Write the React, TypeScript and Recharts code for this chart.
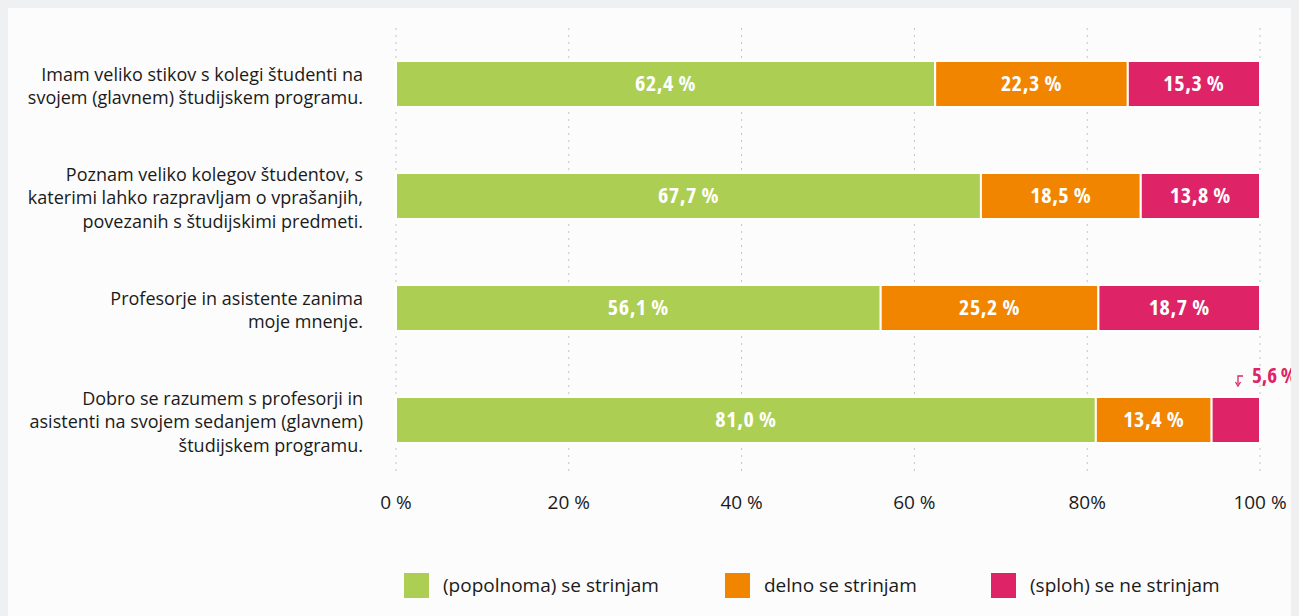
import { BarChart, Bar, XAxis, YAxis, CartesianGrid, LabelList } from 'recharts'

const categories = [
   ['Imam veliko stikov s kolegi študenti na', 'svojem (glavnem) študijskem programu.'],
   ['Poznam veliko kolegov študentov, s', 'katerimi lahko razpravljam o vprašanjih,', 'povezanih s študijskimi predmeti.'],
   ['Profesorje in asistente zanima', 'moje mnenje.'],
   ['Dobro se razumem s profesorji in', 'asistenti na svojem sedanjem (glavnem)', 'študijskem programu.'],
]
const agree = [62.4, 67.7, 56.1, 81.0]
const partly = [22.3, 18.5, 25.2, 13.4]
const disagree = [15.3, 13.8, 18.7, 5.6]
const tickValues = [0, 20, 40, 60, 80, 100]
const tickLabels = ['0 %', '20 %', '40 %', '60 %', '80%', '100 %']
const seriesNames = ['(popolnoma) se strinjam', 'delno se strinjam', '(sploh) se ne strinjam']

const COLORS = ['#acce52', '#f18500', '#de2367']
const FONT = '"Open Sans", sans-serif'
const LEGEND_LEFT = [396, 717, 983]

const data = categories.map((lines, i) => ({
   name: String(i),
   agree: agree[i],
   partly: partly[i],
   disagree: disagree[i],
}))

const fmt = (v: number) => v.toFixed(1).replace('.', ',') + ' %'

function CategoryTick(props: any) {
   const { y, payload } = props
   const lines = categories[Number(payload.value)]
   const lh = 23.5
   const start = y - ((lines.length - 1) * lh) / 2 + 3.5
   return (
      <text x={355} y={start} textAnchor="end" fill="#1a1a1a" fontSize={18} fontFamily={FONT}>
         {lines.map((l, i) => (
            <tspan key={i} x={355} y={start + i * lh} dominantBaseline="middle">
               {l}
            </tspan>
         ))}
      </text>
   )
}

function InsideLabel(props: any) {
   const { x, y, width, height, value } = props
   if (value < 8) {
      // small slice: label sits above the bar with a little hook arrow
      const ax = x + width - 22
      const ty = y - 21
      return (
         <g>
            <path d={`M${ax + 5} ${ty} H${ax} V${ty + 8}`} stroke={COLORS[2]} strokeWidth={1.3} fill="none" />
            <path d={`M${ax - 2.5} ${ty + 6} L${ax} ${ty + 10} L${ax + 2.5} ${ty + 6}`} stroke={COLORS[2]} strokeWidth={1.3} fill="none" />
            <text x={ax + 14} y={ty + 1} fill={COLORS[2]} fontSize={21} fontWeight="bold" fontFamily={FONT} style={{ fontStretch: '75%' }} dominantBaseline="middle">
               {fmt(value)}
            </text>
         </g>
      )
   }
   return (
      <text
         x={x + width / 2}
         y={y + height / 2 + 1}
         textAnchor="middle"
         dominantBaseline="middle"
         fill="#fff"
         fontSize={22}
         fontWeight="bold"
         fontFamily={FONT}
         letterSpacing={0.6}
         style={{ fontStretch: '75%' }}
      >
         {fmt(value)}
      </text>
   )
}

export default function App() {
   return (
      <div style={{ position: 'relative', width: 1291, height: 608, background: '#fcfcfc', fontFamily: FONT }}>
         <style>{'body{background:#eff0f2}'}</style>
         <BarChart
            width={1291}
            height={608}
            data={data}
            layout="vertical"
            barCategoryGap={34}
            margin={{ top: 20, right: 39, left: 0, bottom: 100 }}
         >
            <CartesianGrid horizontal={false} stroke="#c4c4c4" strokeDasharray="2 5" />
            <XAxis
               type="number"
               domain={[0, 100]}
               ticks={tickValues}
               tickFormatter={(v: number) => tickLabels[tickValues.indexOf(v)]}
               axisLine={false}
               tickLine={false}
               height={40}
               tick={{ fill: '#1a1a1a', fontSize: 19, fontFamily: FONT }}
               tickMargin={14}
            />
            <YAxis
               type="category"
               dataKey="name"
               width={388}
               axisLine={false}
               tickLine={false}
               tick={<CategoryTick />}
            />
            {['agree', 'partly', 'disagree'].map((k, i) => (
               <Bar
                  key={k}
                  dataKey={k}
                  stackId="a"
                  fill={COLORS[i]}
                  stroke="#fff"
                  strokeWidth={2}
                  barSize={46}
                  isAnimationActive={false}
               >
                  <LabelList dataKey={k} content={<InsideLabel />} />
               </Bar>
            ))}
         </BarChart>
         {seriesNames.map((n, i) => (
            <div
               key={n}
               style={{
                  position: 'absolute',
                  top: 564,
                  left: LEGEND_LEFT[i],
                  display: 'flex',
                  alignItems: 'center',
                  whiteSpace: 'nowrap',
               }}
            >
               <div style={{ width: 25, height: 25, background: COLORS[i], marginRight: 14 }} />
               <span style={{ fontSize: 19, color: '#1a1a1a' }}>{n}</span>
            </div>
         ))}
      </div>
   )
}
